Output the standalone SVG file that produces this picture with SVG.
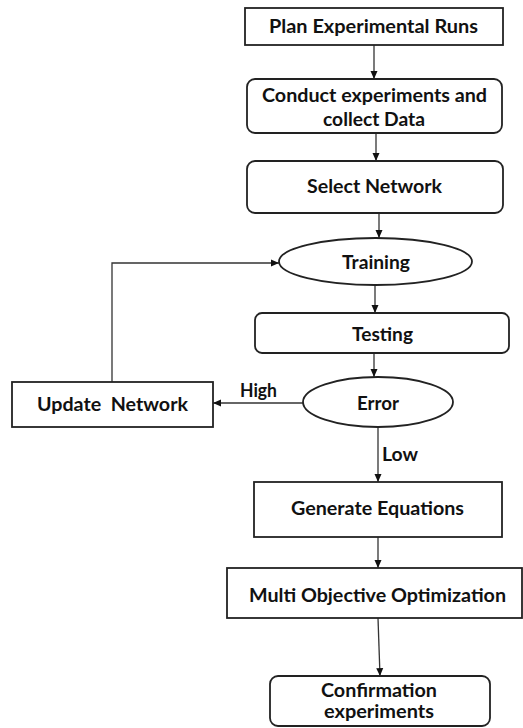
<svg xmlns="http://www.w3.org/2000/svg" width="523" height="728" viewBox="0 0 523 728">
<defs>
<style>
.box{fill:#fff;stroke:#222;stroke-width:1.8}
.conn{fill:none;stroke:#333;stroke-width:1.3}
.t{font-family:Lato,"Liberation Sans",sans-serif;font-weight:bold;font-size:18.5px;fill:#111;text-anchor:middle}
</style>
<marker id="arr" markerUnits="userSpaceOnUse" markerWidth="10" markerHeight="10" viewBox="0 0 10 10" refX="9" refY="5" orient="auto">
<path d="M1,1.5 L9,5 L1,8.5 Z" fill="#111"/>
</marker>
</defs>
<rect width="523" height="728" fill="#fff"/>
<g id="connectors">
<line class="conn" x1="374" y1="45" x2="374" y2="79" marker-end="url(#arr)"/>
<line class="conn" x1="376" y1="133" x2="376" y2="161" marker-end="url(#arr)"/>
<line class="conn" x1="379" y1="213" x2="379" y2="238" marker-end="url(#arr)"/>
<line class="conn" x1="375" y1="285" x2="375" y2="313" marker-end="url(#arr)"/>
<line class="conn" x1="374" y1="353" x2="374" y2="377" marker-end="url(#arr)"/>
<line class="conn" x1="303" y1="403" x2="213" y2="403" marker-end="url(#arr)"/>
<polyline class="conn" points="112,382 112,263 279,263" marker-end="url(#arr)"/>
<line class="conn" x1="378" y1="427" x2="378" y2="482" marker-end="url(#arr)"/>
<line class="conn" x1="378" y1="537" x2="378" y2="568" marker-end="url(#arr)"/>
<line class="conn" x1="378" y1="618" x2="380" y2="676" marker-end="url(#arr)"/>
<text class="t" x="258.5" y="397" textLength="37" lengthAdjust="spacingAndGlyphs">High</text>
<text class="t" x="400" y="461" textLength="36" lengthAdjust="spacingAndGlyphs">Low</text>
</g>
<g id="plan">
<rect class="box" x="245" y="8" width="258" height="37"/>
<text class="t" x="373.5" y="33" textLength="209" lengthAdjust="spacingAndGlyphs">Plan Experimental Runs</text>
</g>
<g id="conduct">
<rect class="box" x="247" y="79" width="255" height="54" rx="8"/>
<text class="t" x="374.5" y="102" textLength="225" lengthAdjust="spacingAndGlyphs">Conduct experiments and</text>
<text class="t" x="374" y="126" textLength="102" lengthAdjust="spacingAndGlyphs">collect Data</text>
</g>
<g id="select">
<rect class="box" x="247" y="161" width="256" height="52" rx="8"/>
<text class="t" x="374.5" y="193" textLength="135" lengthAdjust="spacingAndGlyphs">Select Network</text>
</g>
<g id="training">
<ellipse class="box" cx="375.5" cy="261.5" rx="96.5" ry="23.5"/>
<text class="t" x="376" y="269" textLength="68" lengthAdjust="spacingAndGlyphs">Training</text>
</g>
<g id="testing">
<rect class="box" x="255" y="313" width="254" height="40" rx="7"/>
<text class="t" x="382.5" y="341" textLength="61" lengthAdjust="spacingAndGlyphs">Testing</text>
</g>
<g id="error">
<ellipse class="box" cx="378" cy="402" rx="75" ry="25"/>
<text class="t" x="378" y="410" textLength="42" lengthAdjust="spacingAndGlyphs">Error</text>
</g>
<g id="update">
<rect class="box" x="12" y="382" width="201" height="45"/>
<text class="t" x="112.5" y="411" xml:space="preserve" textLength="151" lengthAdjust="spacingAndGlyphs">Update  Network</text>
</g>
<g id="generate">
<rect class="box" x="254" y="482" width="248" height="55"/>
<text class="t" x="377.5" y="515" textLength="173" lengthAdjust="spacingAndGlyphs">Generate Equations</text>
</g>
<g id="multi">
<rect class="box" x="227" y="568" width="295" height="50"/>
<text class="t" x="377.5" y="602" textLength="257" lengthAdjust="spacingAndGlyphs">Multi Objective Optimization</text>
</g>
<g id="confirm">
<rect class="box" x="270" y="676" width="220" height="50" rx="8"/>
<text class="t" x="379" y="697" textLength="116" lengthAdjust="spacingAndGlyphs">Confirmation</text>
<text class="t" x="379" y="718" textLength="110" lengthAdjust="spacingAndGlyphs">experiments</text>
</g>
</svg>
